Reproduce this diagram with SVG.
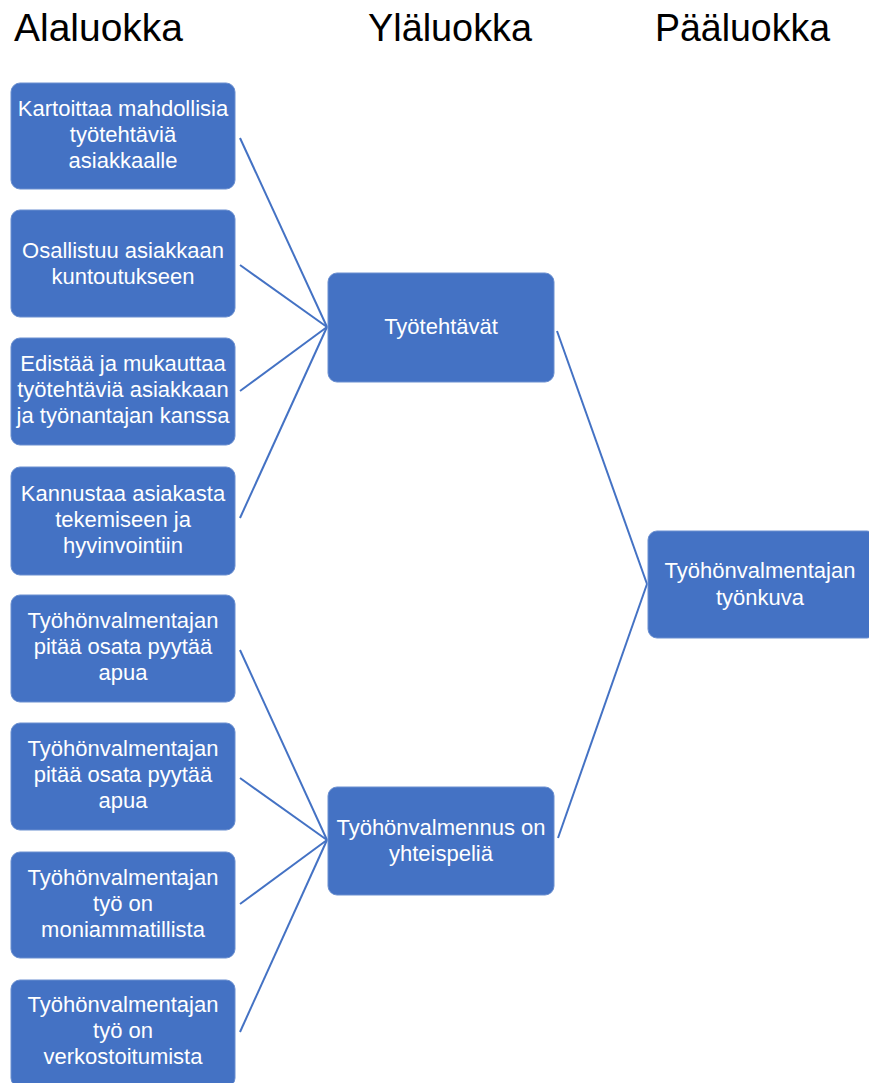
<svg xmlns="http://www.w3.org/2000/svg" width="869" height="1083" viewBox="0 0 869 1083">
<style>
.box{fill:#4472C4;stroke:#6a8fd0;stroke-width:1}
.t{font-family:"Liberation Sans",Arial,sans-serif;font-size:22px;fill:#ffffff;text-anchor:middle}
.h{font-family:"Liberation Sans",Arial,sans-serif;font-size:38px;fill:#000000}
.c{stroke:#4472C4;stroke-width:2;fill:none}
</style>
<rect width="869" height="1083" fill="#ffffff"/>
<g id="headers">
<text class="h" x="14" y="41" textLength="169" lengthAdjust="spacingAndGlyphs">Alaluokka</text>
<text class="h" x="368" y="41" textLength="164" lengthAdjust="spacingAndGlyphs">Yläluokka</text>
<text class="h" x="655" y="41" textLength="175" lengthAdjust="spacingAndGlyphs">Pääluokka</text>
</g>
<g id="connectors">
<line class="c" x1="240" y1="138" x2="327" y2="327"/>
<line class="c" x1="240" y1="265" x2="327" y2="327"/>
<line class="c" x1="240" y1="391" x2="327" y2="327"/>
<line class="c" x1="240" y1="518" x2="327" y2="327"/>
<line class="c" x1="240" y1="650" x2="327" y2="840"/>
<line class="c" x1="240" y1="778" x2="327" y2="840"/>
<line class="c" x1="240" y1="904" x2="327" y2="840"/>
<line class="c" x1="240" y1="1032" x2="327" y2="840"/>
<line class="c" x1="557" y1="331" x2="647" y2="584"/>
<line class="c" x1="558" y1="838" x2="647" y2="584"/>
</g>
<g id="n1"><rect class="box" x="11" y="83" width="224" height="106" rx="9"/>
<text class="t" x="123" y="116">Kartoittaa mahdollisia</text><text class="t" x="123" y="142">työtehtäviä</text><text class="t" x="123" y="168">asiakkaalle</text></g>
<g id="n2"><rect class="box" x="11" y="210" width="224" height="107" rx="9"/>
<text class="t" x="123" y="258">Osallistuu asiakkaan</text><text class="t" x="123" y="284">kuntoutukseen</text></g>
<g id="n3"><rect class="box" x="11" y="338" width="224" height="107" rx="9"/>
<text class="t" x="123" y="371">Edistää ja mukauttaa</text><text class="t" x="123" y="397">työtehtäviä asiakkaan</text><text class="t" x="123" y="423">ja työnantajan kanssa</text></g>
<g id="n4"><rect class="box" x="11" y="467" width="224" height="108" rx="9"/>
<text class="t" x="123" y="501">Kannustaa asiakasta</text><text class="t" x="123" y="527">tekemiseen ja</text><text class="t" x="123" y="553">hyvinvointiin</text></g>
<g id="n5"><rect class="box" x="11" y="595" width="224" height="107" rx="9"/>
<text class="t" x="123" y="628">Työhönvalmentajan</text><text class="t" x="123" y="654">pitää osata pyytää</text><text class="t" x="123" y="680">apua</text></g>
<g id="n6"><rect class="box" x="11" y="723" width="224" height="107" rx="9"/>
<text class="t" x="123" y="756">Työhönvalmentajan</text><text class="t" x="123" y="782">pitää osata pyytää</text><text class="t" x="123" y="808">apua</text></g>
<g id="n7"><rect class="box" x="11" y="852" width="224" height="106" rx="9"/>
<text class="t" x="123" y="885">Työhönvalmentajan</text><text class="t" x="123" y="911">työ on</text><text class="t" x="123" y="937">moniammatillista</text></g>
<g id="n8"><rect class="box" x="11" y="980" width="224" height="107" rx="9"/>
<text class="t" x="123" y="1012">Työhönvalmentajan</text><text class="t" x="123" y="1038">työ on</text><text class="t" x="123" y="1064">verkostoitumista</text></g>
<g id="m1"><rect class="box" x="328" y="273" width="226" height="109" rx="9"/>
<text class="t" x="441" y="334">Työtehtävät</text></g>
<g id="m2"><rect class="box" x="328" y="787" width="226" height="108" rx="9"/>
<text class="t" x="441" y="835">Työhönvalmennus on</text><text class="t" x="441" y="861">yhteispeliä</text></g>
<g id="r1"><rect class="box" x="648" y="531" width="228" height="107" rx="9"/>
<text class="t" x="760" y="578">Työhönvalmentajan</text><text class="t" x="760" y="605">työnkuva</text></g>
</svg>
